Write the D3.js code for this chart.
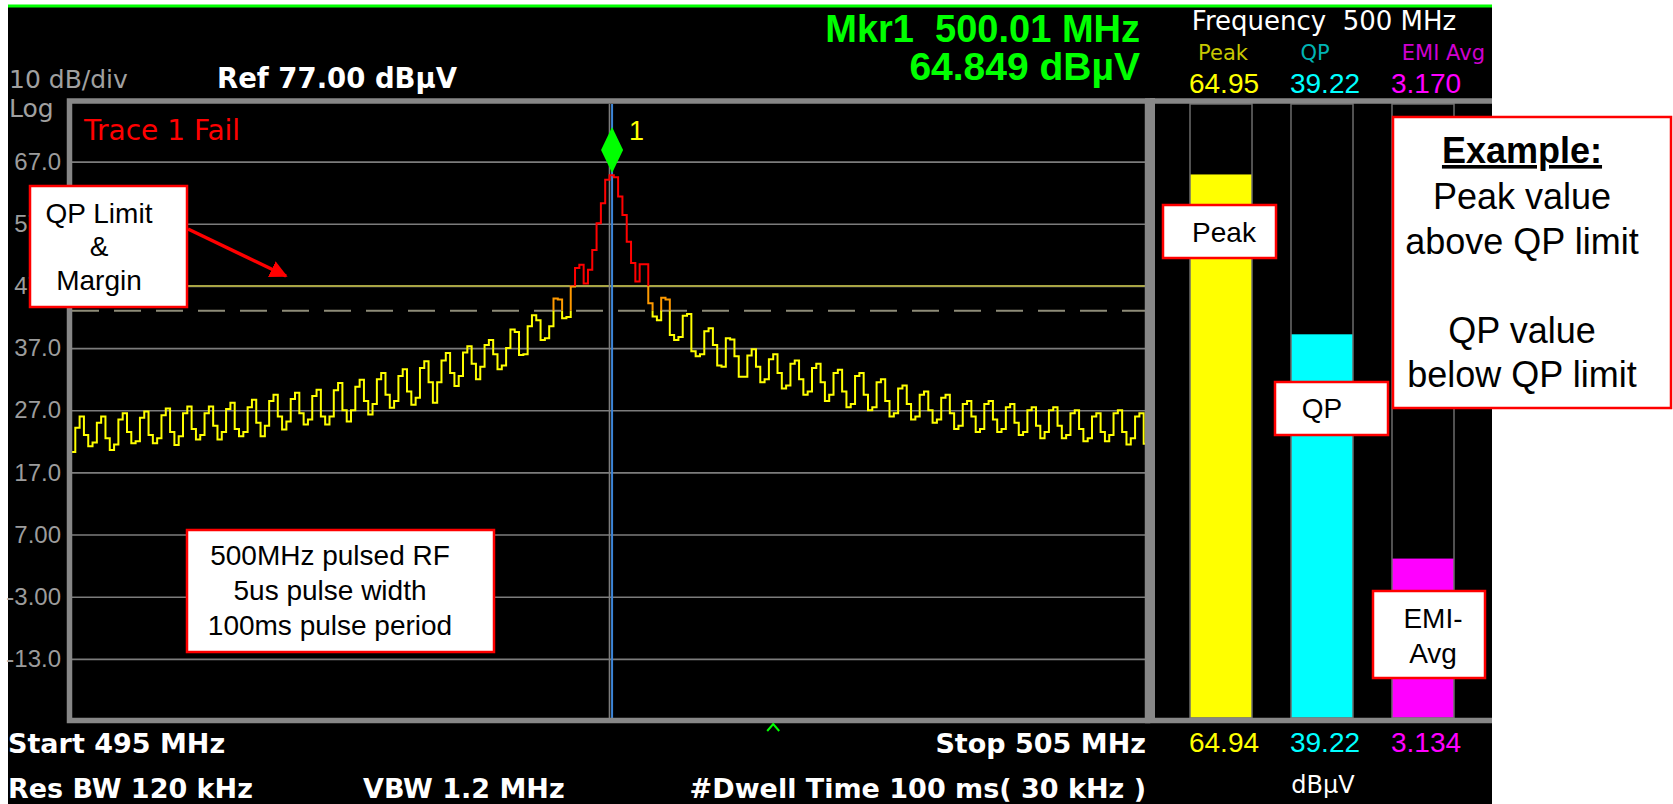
<!DOCTYPE html>
<html>
  <head>
    <title>EMI Receiver Display</title>
    <script src="https://d3js.org/d3.v7.min.js"></script>
    <style>
      body, html {
        margin: 0;
        width: 100%;
        height: 100%;
        overflow: hidden;
        background: #fff;
      }
      #screen {
        position: absolute;
        left: 0;
        top: 0;
      }
      .pre { white-space: pre; }
      .inst { font-family: 'DejaVu Sans', sans-serif; }
      .instBold { font-family: 'DejaVu Sans', sans-serif; font-weight: bold; }
      .arial { font-family: 'Liberation Sans', Arial, sans-serif; }
    </style>
  </head>
  <body>
    <svg id="screen" width="1673" height="804"></svg>
    <script>
      // sweep settings
      const startMHz = 495;
      const stopMHz = 505;
      const stepMHz = 0.04;
      const refLevel = 77;
      const bottomLevel = -23;

      const yTicks = [67, 57, 47, 37, 27, 17, 7, -3, -13];

      // trace 1, one value per 40 kHz step (dBuV)
      const traceDbuv = [
        20.3, 24.2, 26.0, 23.0, 21.2,
        21.8, 25.0, 26.0, 22.5, 20.6,
        21.5, 25.5, 26.5, 23.5, 21.7,
        22.0, 25.8, 26.8, 23.0, 21.7,
        22.5, 26.2, 27.3, 23.5, 21.4,
        22.8, 26.5, 27.6, 24.0, 22.3,
        23.0, 26.5, 27.6, 24.5, 22.3,
        23.5, 27.2, 28.2, 24.0, 22.8,
        23.5, 27.5, 28.7, 25.0, 22.8,
        24.5, 28.5, 29.5, 26.0, 23.9,
        25.2, 28.8, 29.8, 26.5, 24.7,
        25.5, 29.3, 30.3, 26.0, 24.7,
        26.0, 30.2, 31.4, 27.0, 25.2,
        27.0, 30.8, 31.9, 28.5, 26.3,
        28.0, 32.0, 33.0, 29.5, 27.4,
        28.5, 32.5, 33.6, 30.0, 27.9,
        29.0, 33.8, 34.9, 31.5, 28.2,
        31.5, 35.0, 36.2, 33.0, 30.9,
        32.5, 36.3, 37.3, 34.5, 32.0,
        34.0, 37.5, 38.3, 36.0, 33.6,
        34.2, 37.0, 40.0, 39.6, 35.9,
        36.0, 40.5, 42.3, 41.5, 38.3,
        38.6, 40.5, 45.0, 44.8, 41.8,
        42.0, 46.9, 49.9, 50.4, 47.4,
        49.6, 52.8, 57.1, 60.3, 64.1,
        64.8, 64.5, 61.4, 58.4, 54.1,
        50.7, 47.7, 50.5, 50.5, 44.2,
        42.1, 41.5, 45.1, 44.8, 39.1,
        38.3, 38.8, 42.2, 42.5, 36.5,
        35.7, 36.0, 39.7, 40.2, 37.5,
        34.2, 34.0, 38.6, 38.4, 35.7,
        32.4, 32.4, 35.8, 36.8, 34.0,
        31.5, 32.0, 35.2, 36.0, 33.0,
        30.5, 31.0, 34.5, 35.0, 32.0,
        29.5, 30.0, 33.8, 34.5, 31.5,
        28.5, 29.5, 33.0, 33.5, 30.0,
        27.5, 28.0, 32.5, 33.0, 29.5,
        27.0, 27.5, 31.5, 32.0, 28.5,
        26.0, 26.5, 30.5, 31.0, 28.0,
        25.5, 26.0, 29.5, 30.0, 27.0,
        25.0, 25.5, 29.0, 29.5, 26.5,
        24.0, 24.5, 28.0, 28.5, 26.0,
        23.5, 24.0, 28.0, 28.5, 25.5,
        23.5, 24.0, 27.5, 28.0, 25.0,
        23.0, 23.5, 27.0, 27.5, 24.5,
        22.5, 23.5, 27.0, 27.5, 24.5,
        22.5, 23.0, 26.5, 27.0, 24.0,
        22.0, 22.5, 26.0, 26.5, 23.5,
        22.0, 23.0, 26.5, 27.0, 23.5,
        21.5, 22.5, 26.0, 26.5, 21.6
      ];

      const qpLimit = 47;
      const qpMargin = 43;

      const markerMHz = 500.01;
      const markerDbuv = 64.849;
      const trackMHz = 501.52;

      // meter panel
      const meterNames = ["Peak", "QP", "EMI Avg"];
      const meterNow = [64.95, 39.22, 3.170];
      const meterHeld = [64.94, 39.22, 3.134];
      const meterColors = ["#ffff00", "#00ffff", "#ff00ff"];
      const meterDim = ["#c8c800", "#00b4b4", "#d000d0"];

      const svg = d3.select("#screen");
      const fmt = d3.formatLocale({ decimal: ".", thousands: ",", grouping: [3], currency: ["", ""], minus: "-" });
      const tickFmt = fmt.format(".3r");
      const meterFmt = fmt.format(".4r");

      const plotL = 72, plotR = 1145, plotT = 104, plotB = 718;
      const x = d3.scaleLinear().domain([startMHz, stopMHz]).range([71, 1148]);
      const y = d3.scaleLinear().domain([bottomLevel, refLevel]).range([721, 99.5]);
      const band = d3.scaleBand().domain(meterNames).range([1190, 1454]).paddingInner(0.386).paddingOuter(0);

      // instrument screen
      svg.append("rect").attr("x", 8).attr("y", 5).attr("width", 1484).attr("height", 799).attr("fill", "#000");
      svg.append("line").attr("x1", 8).attr("x2", 1492).attr("y1", 6).attr("y2", 6)
        .attr("stroke", "#00ff00").attr("stroke-width", 3);

      // graticule
      svg.append("g")
        .attr("transform", `translate(${plotL},0)`)
        .call(d3.axisLeft(y).tickValues(yTicks).tickFormat(tickFmt).tickSize(-(plotR - plotL)).tickPadding(11))
        .call(g => g.select(".domain").remove())
        .call(g => g.selectAll("line").attr("stroke", "#7c7c7c").attr("stroke-width", 1.6))
        .call(g => g.selectAll("text").attr("fill", "#9c9c9c")
          .attr("font-family", "'Liberation Sans', Arial, sans-serif").attr("font-size", 24));

      // limit and margin
      svg.append("line").attr("x1", plotL).attr("x2", plotR).attr("y1", y(qpLimit)).attr("y2", y(qpLimit))
        .attr("stroke", "#a9a545").attr("stroke-width", 2);
      svg.append("line").attr("x1", plotL).attr("x2", plotR).attr("y1", y(qpMargin)).attr("y2", y(qpMargin))
        .attr("stroke", "#8e8c78").attr("stroke-width", 2).attr("stroke-dasharray", "27,15");

      // trace, colored by level
      const defs = svg.append("defs");
      const levelBands = [
        { id: "clipFail", top: plotT, bottom: y(qpLimit), color: "#ff0000" },
        { id: "clipWarn", top: y(qpLimit), bottom: y(qpMargin), color: "#ff9a00" },
        { id: "clipPass", top: y(qpMargin), bottom: plotB, color: "#ffff00" }
      ];
      levelBands.forEach(b => {
        defs.append("clipPath").attr("id", b.id).append("rect")
          .attr("x", plotL).attr("y", b.top).attr("width", plotR - plotL).attr("height", b.bottom - b.top);
      });

      const tracePts = traceDbuv.map((v, i) => [startMHz + i * stepMHz, v]);
      tracePts.push([stopMHz, traceDbuv[traceDbuv.length - 1]]);
      const traceLine = d3.line().x(d => x(d[0])).y(d => y(d[1])).curve(d3.curveStepAfter);

      // marker lines under the trace
      svg.append("line").attr("x1", x((startMHz + stopMHz) / 2)).attr("x2", x((startMHz + stopMHz) / 2))
        .attr("y1", plotT).attr("y2", plotB).attr("stroke", "#7c7c7c").attr("stroke-width", 1.6);
      svg.append("line").attr("x1", x(markerMHz) + 1.5).attr("x2", x(markerMHz) + 1.5)
        .attr("y1", plotT).attr("y2", plotB).attr("stroke", "#3d85d8").attr("stroke-width", 2);

      levelBands.forEach(b => {
        svg.append("path").datum(tracePts)
          .attr("d", traceLine)
          .attr("clip-path", `url(#${b.id})`)
          .attr("fill", "none")
          .attr("stroke", b.color)
          .attr("stroke-width", 2);
      });

      // marker diamond
      const mx = x(markerMHz) + 1.5;
      const tip = y(markerDbuv) - 2;
      svg.append("path")
        .attr("d", `M${mx},${tip - 46} L${mx + 11},${tip - 23} L${mx},${tip} L${mx - 11},${tip - 23} Z`)
        .attr("fill", "#00ff00");
      svg.append("text").attr("class", "arial").attr("x", mx + 17).attr("y", tip - 33)
        .attr("font-size", 27).attr("fill", "#ffff00").text("1");

      // plot frame
      svg.append("rect").attr("x", 69.5).attr("y", 101).attr("width", 1078).attr("height", 619.5)
        .attr("fill", "none").attr("stroke", "#878787").attr("stroke-width", 5.5);

      // signal track caret
      const cx = x(trackMHz);
      svg.append("path").attr("d", `M${cx - 6},731 L${cx},724 L${cx + 6},731`)
        .attr("fill", "none").attr("stroke", "#00ff00").attr("stroke-width", 2);

      // meter bars
      meterNames.forEach((m, i) => {
        svg.append("rect").attr("x", band(m)).attr("y", y(meterHeld[i]))
          .attr("width", band.bandwidth()).attr("height", y(bottomLevel) - y(meterHeld[i]))
          .attr("fill", meterColors[i]);
        svg.append("rect").attr("x", band(m)).attr("y", plotT)
          .attr("width", band.bandwidth()).attr("height", plotB - plotT)
          .attr("fill", "none").attr("stroke", "#6c6c6c").attr("stroke-width", 1.5);
      });
      svg.append("line").attr("x1", 1145).attr("x2", 1492).attr("y1", 101).attr("y2", 101)
        .attr("stroke", "#878787").attr("stroke-width", 5.5);
      svg.append("line").attr("x1", 1145).attr("x2", 1492).attr("y1", 720.5).attr("y2", 720.5)
        .attr("stroke", "#878787").attr("stroke-width", 5.5);
      svg.append("line").attr("x1", 1152.5).attr("x2", 1152.5).attr("y1", 98).attr("y2", 723)
        .attr("stroke", "#878787").attr("stroke-width", 5);

      // header text
      const addText = (cls, tx, ty, size, color, str, anchor) =>
        svg.append("text").attr("class", cls).attr("x", tx).attr("y", ty)
          .attr("font-size", size).attr("fill", color)
          .attr("text-anchor", anchor || "start").text(str);

      addText("inst", 9, 88, 25, "#a0a0a0", "10 dB/div");
      addText("inst", 9, 117, 25, "#a0a0a0", "Log");
      addText("instBold", 217, 88, 27.5, "#fff", "Ref 77.00 dBµV");
      addText("arial pre", 1140, 42, 38, "#00ff00", "Mkr1  500.01 MHz", "end").attr("font-weight", "bold");
      addText("arial", 1140, 80, 39, "#00ff00", "64.849 dBµV", "end").attr("font-weight", "bold");
      addText("inst", 84, 140, 28, "#ff0000", "Trace 1 Fail");

      addText("inst pre", 1324, 30, 26, "#fff", "Frequency  500 MHz", "middle");
      meterNames.forEach((m, i) => {
        const c = band(m) + band.bandwidth() / 2;
        if (i < 2) addText("inst", c + (i === 0 ? 2 : -7), 60, 21, meterDim[i], m, "middle");
        else addText("inst", band(m) + band.bandwidth() + 31, 60, 21, meterDim[i], m, "end");
        addText("arial", c + 3, 93, 28, meterColors[i], meterFmt(meterNow[i]), "middle");
        addText("arial", c + 3, 752, 28, meterColors[i], meterFmt(meterHeld[i]), "middle");
      });
      addText("inst", 1323, 793, 24, "#fff", "dBµV", "middle");

      // footer text
      addText("instBold", 8, 753, 27, "#fff", `Start ${startMHz} MHz`);
      addText("instBold", 8, 798, 27, "#fff", "Res BW 120 kHz");
      addText("instBold", 363, 798, 27, "#fff", "VBW 1.2 MHz");
      addText("instBold", 1146, 753, 27, "#fff", `Stop ${stopMHz} MHz`, "end");
      addText("instBold pre", 1146, 798, 27, "#fff", "#Dwell Time 100 ms( 30 kHz )", "end");

      // callouts
      const callout = (bx, by, bw, bh, tx, baselines, lines, size) => {
        svg.append("rect").attr("x", bx).attr("y", by).attr("width", bw).attr("height", bh)
          .attr("fill", "#fff").attr("stroke", "#ff0000").attr("stroke-width", 2.5);
        return lines.map((l, i) => addText("arial", tx, baselines[i], size, "#000", l, "middle"));
      };

      callout(30, 186, 157, 121, 99, [223, 256, 290], ["QP Limit", "&", "Margin"], 28);
      callout(187, 530, 307, 122, 330, [565, 600, 635], ["500MHz pulsed RF", "5us pulse width", "100ms pulse period"], 28);
      callout(1163, 205, 113, 53, 1224, [242], ["Peak"], 28);
      callout(1275, 382, 113, 53, 1322, [418], ["QP"], 28);
      callout(1373, 591, 112, 87, 1433, [628, 663], ["EMI-", "Avg"], 28);
      const ex = callout(1393, 117, 278, 291, 1522, [163, 209, 254, 343, 387],
        ["Example:", "Peak value", "above QP limit", "QP value", "below QP limit"], 36);
      ex[0].attr("font-weight", "bold").attr("text-decoration", "underline");

      // arrow to the limit line
      defs.append("marker").attr("id", "arrowHead").attr("viewBox", "0 0 10 10")
        .attr("refX", 9).attr("refY", 5).attr("markerWidth", 5).attr("markerHeight", 5)
        .attr("orient", "auto")
        .append("path").attr("d", "M0,0 L10,5 L0,10 Z").attr("fill", "#ff0000");
      svg.append("line").attr("x1", 188).attr("y1", 229).attr("x2", 286).attr("y2", 276)
        .attr("stroke", "#ff0000").attr("stroke-width", 3.5).attr("marker-end", "url(#arrowHead)");
    </script>
  </body>
</html>
